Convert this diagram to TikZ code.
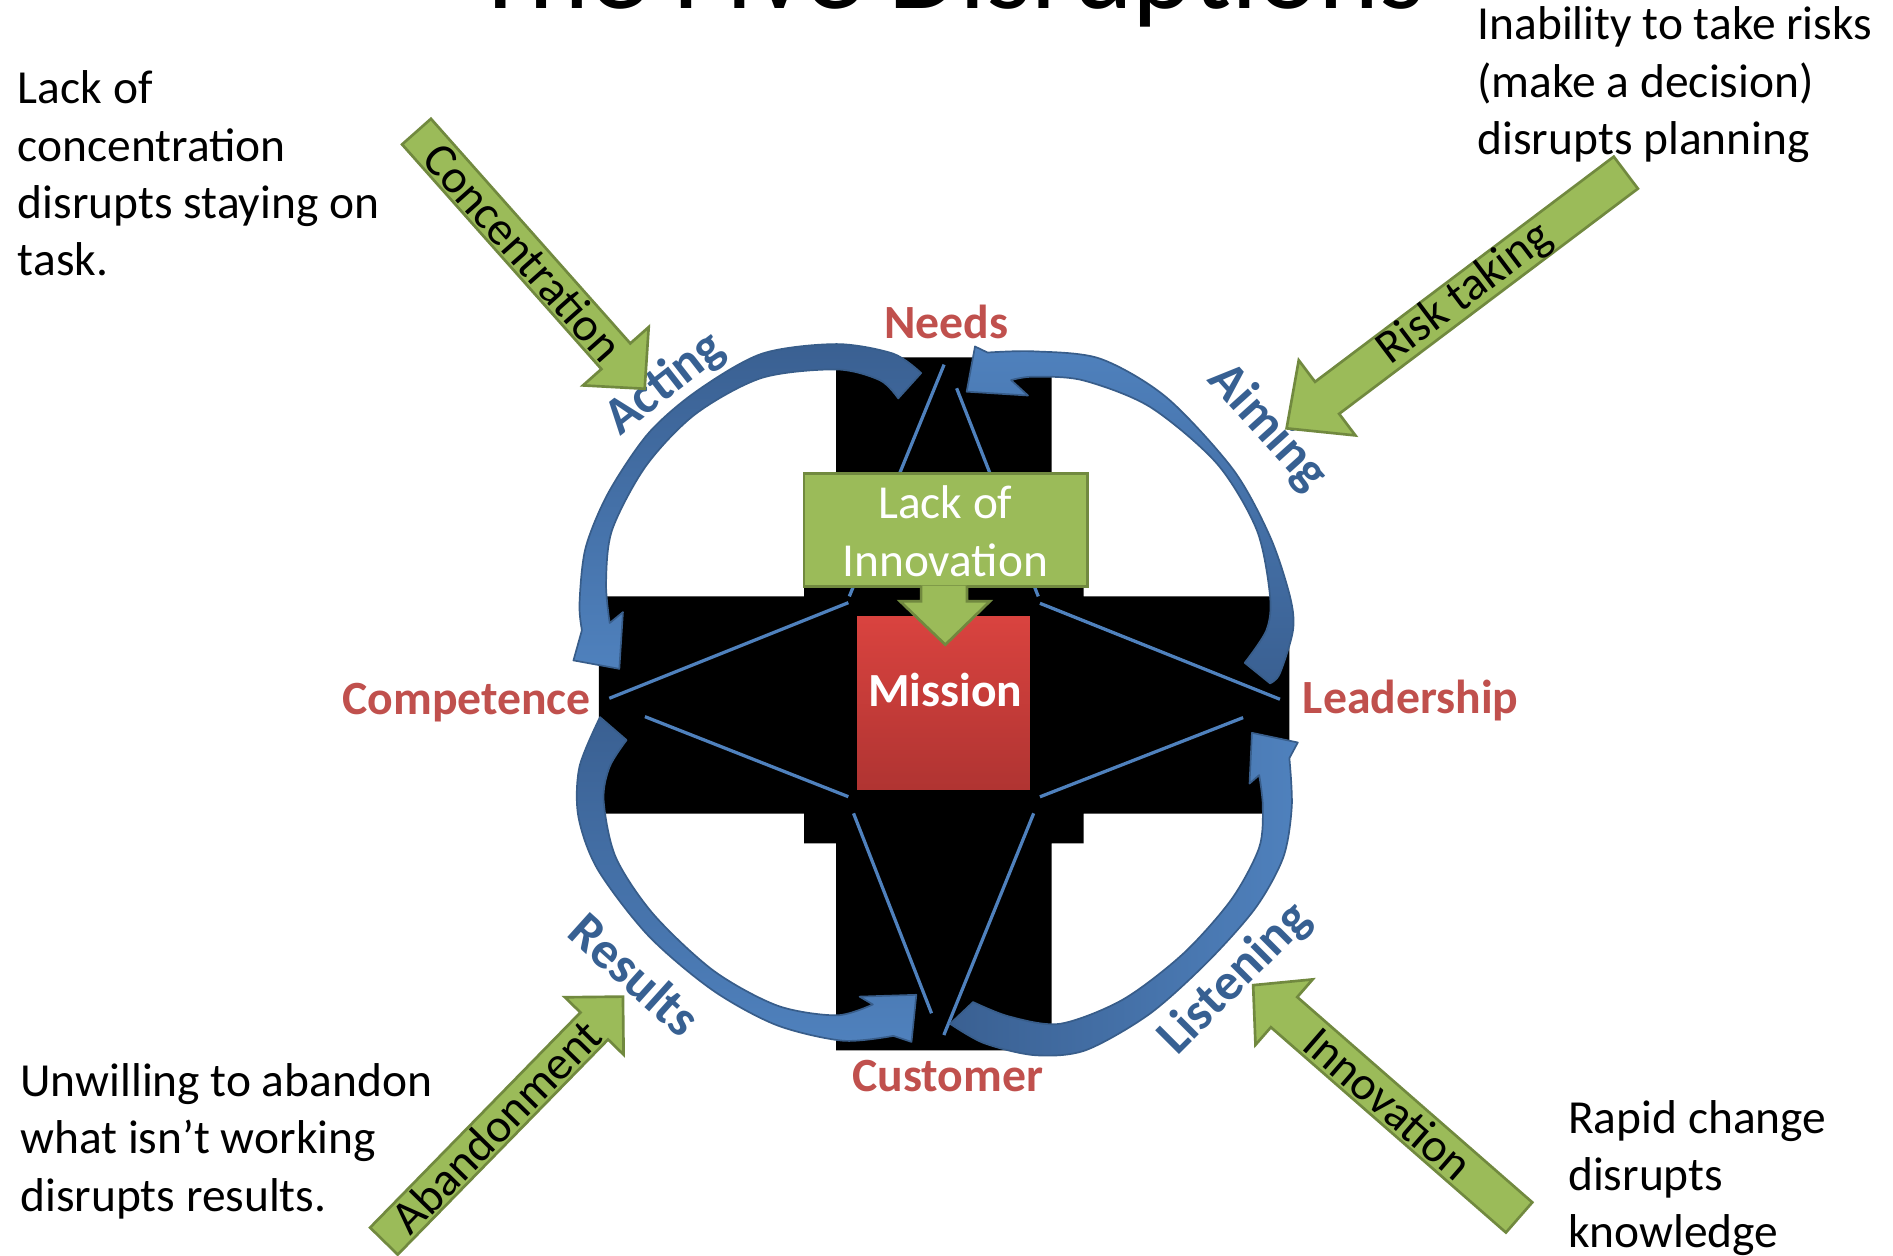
\documentclass[tikz,border=0pt]{standalone}
\usepackage{fontspec}
\setmainfont{Carlito}
\usetikzlibrary{calc}
\definecolor{gfill}{RGB}{155,187,89}
\definecolor{gline}{RGB}{113,137,63}
\definecolor{blueL}{RGB}{79,129,189}
\definecolor{blueD}{RGB}{58,96,146}
\definecolor{blueB}{RGB}{56,93,138}
\definecolor{redlab}{RGB}{192,80,77}
\definecolor{bluelab}{RGB}{55,96,146}
\definecolor{mtop}{RGB}{217,67,63}
\definecolor{mbot}{RGB}{176,52,50}
\tikzset{
  body/.style={font=\fontsize{19.65pt}{23.7pt}\selectfont, inner sep=0pt, anchor=base west},
  redl/.style={font=\bfseries\fontsize{19.75pt}{23.7pt}\selectfont, text=redlab, inner sep=0pt, anchor=base},
  bluel/.style={font=\bfseries\fontsize{21.5pt}{25pt}\selectfont, text=bluelab, inner sep=0pt},
  gshape/.style={fill=gfill, draw=gline, line width=1.1pt, line join=miter},
  gtext/.style={font=\fontsize{19.65pt}{23.7pt}\selectfont, inner sep=0pt},
  starline/.style={draw=blueL, line width=1.35pt},
  barrow/.style={draw=blueB, line width=0.7pt, line join=round},
}
\newcommand\garrow[9]{%
  \coordinate (#6t) at #1;
  \coordinate (#6h) at #2;
  \coordinate (#6b) at ($(#6h)!#5!(#6t)$);
  \path[gshape] ($(#6t)!#3!90:(#6h)$) -- ($(#6b)!#3!90:(#6h)$) -- ($(#6b)!#4!90:(#6h)$) -- (#6h)
     -- ($(#6b)!#4!-90:(#6h)$) -- ($(#6b)!#3!-90:(#6h)$) -- ($(#6t)!#3!-90:(#6h)$) -- cycle;
  \node[gtext, rotate=#8] (#6) at ($(#6t)!#9!(#6h)$) {#7};
}
\begin{document}
\begin{tikzpicture}[x=0.5pt, y=-0.5pt]
\useasboundingbox (0,0) rectangle (1568,1040);
\clip (0,0) rectangle (1568,1040);
% title
\node[font=\fontsize{48pt}{58pt}\selectfont, anchor=base, inner sep=0pt] (title) at (786,7) {The Five Disruptions};
% black cross
\fill[black] (692.5,296) -- (871,296) -- (871,469.5) -- (897.5,469.5) -- (897.5,494) -- (1068,494)
  -- (1068,674) -- (897.5,674) -- (897.5,698.5) -- (871,698.5) -- (871,870) -- (692.5,870)
  -- (692.5,698.5) -- (666,698.5) -- (666,674) -- (496,674) -- (496,494) -- (666,494)
  -- (666,469.5) -- (692.5,469.5) -- cycle;
% star lines
\draw[starline] (782,302) -- (703.5,494);
\draw[starline] (792.4,321.6) -- (860,494);
\draw[starline] (702.7,499.2) -- (504.7,578.4);
\draw[starline] (861.4,499.7) -- (1060.2,579.2);
\draw[starline] (534.2,593.6) -- (702.7,659.9);
\draw[starline] (1029.7,594.4) -- (861.4,660);
\draw[starline] (707,673.7) -- (771.6,839.3);
\draw[starline] (856.2,673.7) -- (781.8,857.3);
% blue curved arrows
\path[barrow, top color=blueD, bottom color=blueL]
  plot[smooth] coordinates {(763,309) (740,293) (693,285) (631,293) (577,324) (537,359) (504,408) (485,454) (480,500) (482,522)}
  -- (475,547) -- (513,554) -- (516,507) -- (505,516)
  -- plot[smooth] coordinates {(505,516) (502,483) (507,439) (535,386) (576,343) (631,313) (693,306) (729,315) (744,330)}
  -- cycle;
\path[barrow, top color=blueL, bottom color=blueD]
  plot[smooth] coordinates {(1052,566) (1060,558) (1071,522) (1068.5,494) (1052,444.5) (1021.5,389) (966,329) (911,297) (856,291) (818,292)}
  -- (807.6,287) -- (800.7,324.4) -- (851.5,327.6) -- (837.5,314.8)
  -- plot[smooth] coordinates {(837.5,314.8) (856,312) (897,315) (952.5,337) (1008,384) (1041,439) (1052,494) (1049,522) (1031,549)}
  -- cycle;
\path[barrow, top color=blueD, bottom color=blueL]
  plot[smooth] coordinates {(497,594) (480,635) (479,676) (495,720) (537,775) (590,820) (643,849) (698,862) (740,858)}
  -- (755,863) -- (759,824) -- (712,825.5) -- (723,832)
  -- plot[smooth] coordinates {(723,832) (693,841) (644,833) (591,804) (541,757) (510,710) (500,663) (505,635) (519,613)}
  -- cycle;
\path[barrow, left color=blueD, right color=blueL]
  plot[smooth] coordinates {(787,848) (815,864) (857,874) (899,870) (952,840) (1000,797) (1040,752) (1063,710) (1070,668) (1068,628)}
  -- (1075,615) -- (1037,607) -- (1035,649) -- (1043,642)
  -- plot[smooth] coordinates {(1043,642) (1046,668) (1043,702) (1020,745) (980,790) (930,828) (878,848) (836,842) (806,830)}
  -- cycle;
% mission box
\node[minimum width=71.5pt, minimum height=71.5pt, inner sep=0pt, top color=mtop, bottom color=mbot] (missionbox) at (781.5,582.5) {};
\node[font=\bfseries\fontsize{19.7pt}{23.7pt}\selectfont, text=white, anchor=base, inner sep=0pt] (mission) at (783,585.6) {Mission};
% lack of innovation box
\node[gshape, minimum width=117.5pt, minimum height=47pt, inner sep=0pt] (lackbox) at (783.5,439) {};
\node[font=\fontsize{19.6pt}{24.2pt}\selectfont, text=white, anchor=base, inner sep=0pt] (lack) at (783,429.3) {\begin{tabular}[t]{@{}c@{}}Lack of\\Innovation\end{tabular}};
\path[gshape] (763,485) -- (763,498) -- (745.5,498) -- (783,534) -- (820,498) -- (801,498) -- (801,485);
% red labels
\node[redl] (needs) at (784,280) {Needs};
\node[redl] (competence) at (386.5,592) {Competence};
\node[redl] (leadership) at (1168.5,591) {Leadership};
\node[redl] (customer) at (785,904) {Customer};
% blue labels
\node[bluel, rotate=38] (acting) at (551,318) {Acting};
\node[bluel, rotate=-48] (aiming) at (1050,354) {Aiming};
\node[bluel, rotate=-42] (results) at (526,807) {Results};
\node[bluel, rotate=45] (listening) at (1023,811) {Listening};
% green disruption arrows
\garrow{(345,109)}{(534,322)}{8pt}{18.2pt}{18pt}{conc}{Concentration}{-48.4}{0.468}
\garrow{(1346.7,143)}{(1065.7,354.8)}{8.3pt}{19.5pt}{21pt}{risk}{Risk taking}{37}{0.475}
\garrow{(318,1028)}{(516,825.5)}{8pt}{17pt}{17pt}{aband}{Abandonment}{45.6}{0.469}
\garrow{(1258.3,1008.4)}{(1038,816)}{8.3pt}{18pt}{17pt}{innov}{Innovation}{-41}{0.491}
% text blocks
\node[body] (t1) at (14.5,86.1) {\begin{tabular}[t]{@{}l@{}}Lack of\\concentration\\disrupts staying on\\task.\end{tabular}};
\node[body] (t2) at (1223.5,33.1) {\begin{tabular}[t]{@{}l@{}}Inability to take risks\\(make a decision)\\disrupts planning\end{tabular}};
\node[body] (t3) at (16.5,908.4) {\begin{tabular}[t]{@{}l@{}}Unwilling to abandon\\what isn’t working\\disrupts results.\end{tabular}};
\node[body] (t4) at (1298.5,938.7) {\begin{tabular}[t]{@{}l@{}}Rapid change\\disrupts\\knowledge\end{tabular}};
\end{tikzpicture}
\end{document}
